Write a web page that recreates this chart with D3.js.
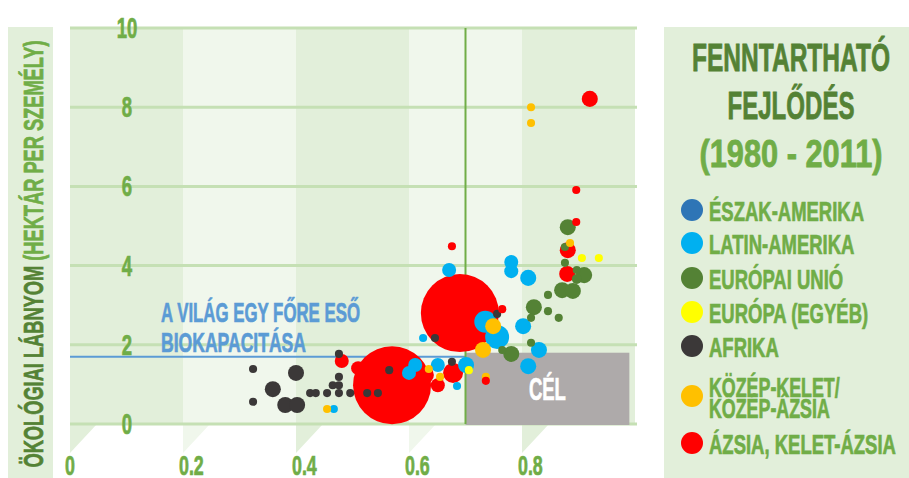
<!DOCTYPE html>
<html>
<head>
<meta charset="utf-8">
<script src="https://cdn.jsdelivr.net/npm/d3@7"></script>
<style>
  html, body { margin: 0; padding: 0; background: #fff; }
  text { font-family: "Liberation Sans", Arial, sans-serif; font-weight: bold; }
</style>
</head>
<body>
<svg id="chart" width="909" height="478"></svg>
<script>
// regions, legend order
var regions = ["ÉSZAK-AMERIKA", "LATIN-AMERIKA", "EURÓPAI UNIÓ", "EURÓPA (EGYÉB)", "AFRIKA", "KÖZÉP-KELET/\nKÖZÉP-ÁZSIA", "ÁZSIA, KELET-ÁZSIA"];
var regionColors = ["#2e75b6", "#00b0f0", "#548235", "#ffff00", "#3b3838", "#ffc000", "#ff0000"];

// [HDI, ecological footprint (ha/person), population (millions)]
var eszakAmerika = [];
var latinAmerika = [
    [0.781, 4.09, 42], [0.781, 3.86, 42], [0.811, 3.69, 55], [0.802, 2.47, 55],
    [0.830, 1.87, 55], [0.811, 1.46, 55], [0.671, 3.89, 42], [0.735, 2.58, 103],
    [0.756, 2.20, 123], [0.625, 2.17, 14], [0.611, 1.49, 42], [0.600, 1.29, 42],
    [0.651, 1.49, 42], [0.701, 1.49, 55], [0.685, 0.96, 14], [0.467, 0.38, 14]
];
var europaiUnio = [
    [0.881, 4.97, 55], [0.876, 4.47, 14], [0.876, 4.07, 14], [0.897, 3.89, 14],
    [0.910, 3.76, 55], [0.897, 3.66, 21], [0.871, 3.38, 55], [0.890, 3.36, 55],
    [0.846, 3.26, 14], [0.821, 2.95, 55], [0.846, 2.85, 14], [0.816, 2.68, 14],
    [0.865, 2.68, 14], [0.816, 2.05, 14], [0.781, 1.77, 55], [0.765, 1.87, 14]
];
var europaEgyeb = [
    [0.906, 4.19, 14], [0.936, 4.19, 14], [0.706, 1.36, 14]
];
var afrika = [
    [0.324, 1.39, 14], [0.400, 1.29, 55], [0.359, 0.88, 55], [0.324, 0.56, 14],
    [0.381, 0.48, 55], [0.402, 0.48, 55], [0.425, 0.78, 14], [0.435, 0.78, 14],
    [0.455, 0.78, 14], [0.476, 0.78, 14], [0.496, 0.78, 14], [0.465, 0.98, 14],
    [0.476, 0.98, 14], [0.476, 1.19, 14], [0.476, 1.77, 14], [0.526, 0.78, 14],
    [0.545, 0.78, 14], [0.565, 1.36, 14], [0.646, 2.17, 14], [0.676, 1.57, 14],
    [0.756, 2.78, 14]
];
var kozepKelet = [
    [0.816, 8.0, 14], [0.816, 7.6, 14], [0.885, 4.57, 14], [0.749, 2.47, 55],
    [0.731, 1.87, 55], [0.635, 1.39, 14], [0.655, 1.19, 14], [0.736, 1.19, 14],
    [0.455, 0.38, 14]
];
var azsia = [
    [0.570, 0.98, 1300], [0.690, 2.80, 1300], [0.920, 8.21, 55], [0.896, 5.91, 14],
    [0.896, 5.10, 14], [0.881, 4.39, 55], [0.880, 3.79, 55], [0.676, 4.49, 14],
    [0.765, 2.90, 14], [0.481, 1.59, 42], [0.510, 1.41, 42], [0.678, 1.29, 85],
    [0.651, 0.98, 42], [0.736, 1.09, 14], [0.628, 1.24, 70]
];
var seriesData = [eszakAmerika, latinAmerika, europaiUnio, europaEgyeb, afrika, kozepKelet, azsia];

var xTicks = [0, 0.2, 0.4, 0.6, 0.8];
var xTickLabels = ["0", "0.2", "0.4", "0.6", "0.8"];
var yTicks = [0, 2, 4, 6, 8, 10];

var biocapacity = 1.7;      // world biocapacity per person
var hdiThreshold = 0.7;     // high human development
var celHdi = [0.7, 0.99];
var celFootprint = [0, 1.8];

var titleLines = ["FENNTARTHATÓ", "FEJLŐDÉS", "(1980 - 2011)"];
var yLabelParts = ["ÖKOLÓGIAI LÁBNYOM ", "(HEKTÁR PER SZEMÉLY)"];
var bioLabel = ["A VILÁG EGY FŐRE ESŐ", "BIOKAPACITÁSA"];

var DARK_BAND = "#e2efda", LIGHT_BAND = "#f0f7ec";
var GREEN = "#70ad47", DARK_GREEN = "#548235";

var svg = d3.select("#chart");

var x = d3.scaleLinear().domain([0, 1]).range([70, 635]);
var y = d3.scaleLinear().domain([0, 10]).range([424, 28]);
var r = d3.scaleSqrt().domain([0, 1300]).range([0, 39]);

// narrow the wide sans so it reads like a condensed display face
function squeeze(sel, k) {
    sel.each(function() {
        var w = this.getComputedTextLength();
        d3.select(this).attr("textLength", w * k).attr("lengthAdjust", "spacingAndGlyphs");
    });
}
function fit(sel, w) {
    sel.attr("textLength", w).attr("lengthAdjust", "spacingAndGlyphs");
}
// thicken strokes a little (display face is heavier)
function heavy(sel, col) {
    sel.attr("stroke", col).attr("stroke-width", 0.7);
}

// side panels
svg.append("rect").attr("x", 8).attr("y", 27).attr("width", 45).attr("height", 451).attr("fill", DARK_BAND);
svg.append("rect").attr("x", 664).attr("y", 27).attr("width", 245).attr("height", 451).attr("fill", DARK_BAND);

// bands
var bands = svg.append("g");
xTicks.forEach(function(t, i) {
    var col = i % 2 ? LIGHT_BAND : DARK_BAND;
    bands.append("rect")
        .attr("x", x(t)).attr("y", y(10) - 1)
        .attr("width", x(t + 0.2) - x(t)).attr("height", y(0) - y(10) + 1)
        .attr("fill", col);
    bands.append("path")
        .attr("d", "M" + x(t) + "," + y(0) + "L" + (x(t) + 27) + "," + y(0) + "L" + x(t) + "," + (y(0) + 29) + "Z")
        .attr("fill", col);
});

// grid
svg.append("g").selectAll("line").data(yTicks).enter().append("line")
    .attr("x1", x(0)).attr("x2", x(1) + 2)
    .attr("y1", function(d) { return y(d); }).attr("y2", function(d) { return y(d); })
    .attr("stroke", "#c5e0b4").attr("stroke-width", 3);

// target box
svg.append("rect")
    .attr("x", x(celHdi[0])).attr("y", y(celFootprint[1]))
    .attr("width", x(celHdi[1]) - x(celHdi[0])).attr("height", y(celFootprint[0]) - y(celFootprint[1]) + 1)
    .attr("fill", "#aeaaaa");
svg.append("text").attr("x", (x(celHdi[0]) + x(celHdi[1])) / 2).attr("y", 400)
    .attr("text-anchor", "middle").attr("fill", "#fff").attr("font-size", 32)
    .text("CÉL").call(fit, 37).call(heavy, "#fff");

// reference lines
svg.append("line").attr("x1", x(0)).attr("x2", x(hdiThreshold))
    .attr("y1", y(biocapacity)).attr("y2", y(biocapacity))
    .attr("stroke", "#5b9bd5").attr("stroke-width", 2);
svg.append("line").attr("x1", x(hdiThreshold)).attr("x2", x(hdiThreshold))
    .attr("y1", y(10)).attr("y2", y(0))
    .attr("stroke", GREEN).attr("stroke-width", 2);

// y tick labels
svg.append("g").selectAll("text").data(yTicks).enter().append("text")
    .attr("x", 127).attr("y", function(d) { return y(d) + 10; })
    .attr("text-anchor", "middle").attr("fill", GREEN).attr("font-size", 29)
    .text(function(d) { return d; })
    .call(squeeze, 0.64).call(heavy, GREEN);

// x tick labels
svg.append("g").selectAll("text").data(xTicks).enter().append("text")
    .attr("x", function(d, i) { return i === 0 ? x(d) : x(d) - 4; })
    .attr("y", 475)
    .attr("text-anchor", function(d, i) { return i === 0 ? "middle" : "start"; })
    .attr("fill", GREEN).attr("font-size", 27)
    .text(function(d, i) { return xTickLabels[i]; })
    .call(squeeze, 0.66).call(heavy, GREEN);

// biocapacity label
svg.append("g").selectAll("text").data(bioLabel).enter().append("text")
    .attr("x", 161).attr("y", function(d, i) { return 322 + i * 30; })
    .attr("fill", "#5b9bd5").attr("font-size", 28)
    .text(function(d) { return d; })
    .each(function(d, i) { d3.select(this).call(fit, i ? 145 : 199); })
    .call(heavy, "#5b9bd5");

// y axis title
var yl = svg.append("text")
    .attr("transform", "translate(43,254) rotate(-90)")
    .attr("text-anchor", "middle").attr("font-size", 28);
yl.append("tspan").attr("fill", DARK_GREEN).attr("stroke", DARK_GREEN).text(yLabelParts[0]);
yl.append("tspan").attr("fill", GREEN).attr("stroke", GREEN).text(yLabelParts[1]);
yl.attr("stroke-width", 0.7).call(fit, 427);

// bubbles
var points = [];
seriesData.forEach(function(s, i) {
    s.forEach(function(p) { points.push({ hdi: p[0], fp: p[1], pop: p[2], region: i }); });
});
points.sort(function(a, b) { return b.pop - a.pop; });

svg.append("g").selectAll("circle").data(points).enter().append("circle")
    .attr("cx", function(d) { return x(d.hdi); })
    .attr("cy", function(d) { return y(d.fp); })
    .attr("r", function(d) { return r(d.pop); })
    .attr("fill", function(d) { return regionColors[d.region]; });

// legend title
var titleCx = 791;
svg.append("g").selectAll("text").data(titleLines).enter().append("text")
    .attr("x", titleCx).attr("y", function(d, i) { return 71 + i * 48; })
    .attr("text-anchor", "middle").attr("font-size", 38)
    .attr("fill", function(d, i) { return i < 2 ? DARK_GREEN : GREEN; })
    .attr("stroke", function(d, i) { return i < 2 ? DARK_GREEN : GREEN; })
    .attr("stroke-width", 0.8)
    .text(function(d) { return d; })
    .each(function(d, i) { d3.select(this).call(fit, [198, 127, 183][i]); });

// legend items
var legendY = [210, 243, 278, 312, 346, 396, 443];
var lg = svg.append("g").selectAll("g").data(regions).enter().append("g");
lg.append("circle").attr("cx", 692).attr("cy", function(d, i) { return legendY[i]; })
    .attr("r", 11).attr("fill", function(d, i) { return regionColors[i]; });
lg.each(function(d, i) {
    var lines = d.split("\n");
    var g = d3.select(this);
    lines.forEach(function(line, j) {
        var base = lines.length > 1 ? legendY[i] + 1 + j * 21 : legendY[i] + 11;
        g.append("text").attr("x", 709).attr("y", base)
            .attr("fill", GREEN).attr("font-size", lines.length > 1 ? 27 : 28)
            .text(line).call(squeeze, 0.66).call(heavy, GREEN);
    });
});
</script>
</body>
</html>
